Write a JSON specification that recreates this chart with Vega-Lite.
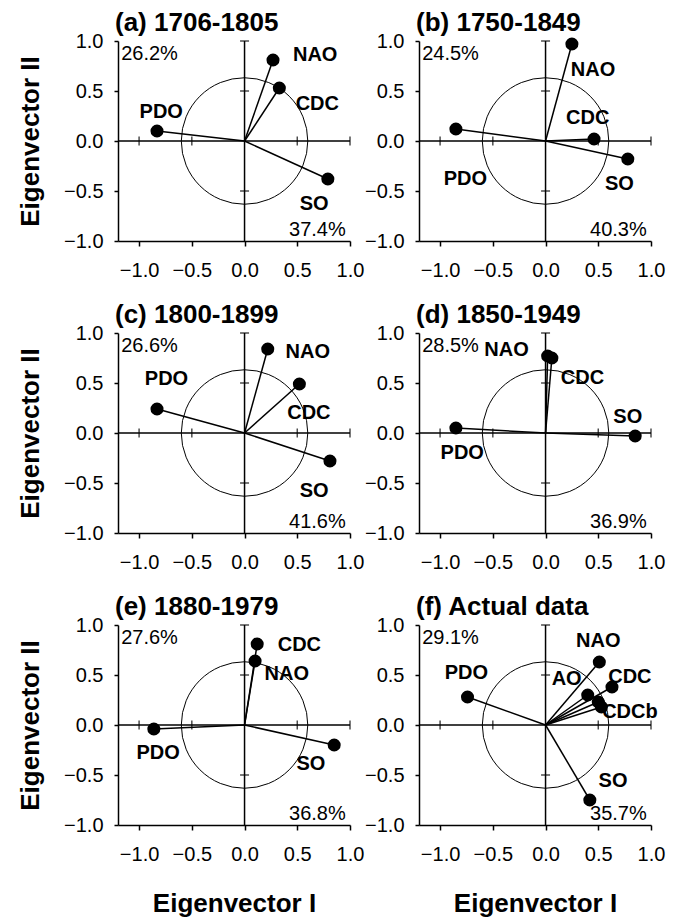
{
  "$schema": "https://vega.github.io/schema/vega-lite/v6.json",
  "padding": {"left": 17, "top": 10, "right": 5, "bottom": 5},
  "background": "white",
  "config": {
    "view": {"stroke": null},
    "font": "Liberation Sans",
    "axis": {"grid": false, "labelFlush": false, "domainColor": "black", "domainWidth": 1.5, "tickColor": "black", "tickWidth": 1.5, "tickSize": 5, "labelFont": "Liberation Sans", "labelFontSize": 20, "labelColor": "black", "titleFont": "Liberation Sans", "titleFontSize": 26, "titleFontWeight": "bold", "titleColor": "black"},
    "axisX": {"labelPadding": 14, "titlePadding": 26},
    "axisY": {"labelPadding": 11, "titlePadding": 20, "tickSize": 4},
    "title": {"anchor": "start", "frame": "group", "fontSize": 26, "font": "Liberation Sans", "fontWeight": "bold", "color": "black", "offset": -5, "dx": -3},
    "tick": {"color": "black"}
  },
  "datasets": {
    "pts": [
      {"p": "a", "v": "NAO", "x": 0.27, "y": 0.81, "lx": 0.67, "ly": 0.86},
      {"p": "a", "v": "CDC", "x": 0.33, "y": 0.53, "lx": 0.69, "ly": 0.37},
      {"p": "a", "v": "PDO", "x": -0.83, "y": 0.10, "lx": -0.79, "ly": 0.29},
      {"p": "a", "v": "SO", "x": 0.79, "y": -0.38, "lx": 0.66, "ly": -0.63},
      {"p": "b", "v": "NAO", "x": 0.25, "y": 0.97, "lx": 0.45, "ly": 0.71},
      {"p": "b", "v": "CDC", "x": 0.46, "y": 0.02, "lx": 0.40, "ly": 0.23},
      {"p": "b", "v": "PDO", "x": -0.85, "y": 0.12, "lx": -0.76, "ly": -0.38},
      {"p": "b", "v": "SO", "x": 0.78, "y": -0.18, "lx": 0.70, "ly": -0.43},
      {"p": "c", "v": "NAO", "x": 0.22, "y": 0.84, "lx": 0.60, "ly": 0.81},
      {"p": "c", "v": "CDC", "x": 0.52, "y": 0.49, "lx": 0.61, "ly": 0.20},
      {"p": "c", "v": "PDO", "x": -0.83, "y": 0.24, "lx": -0.74, "ly": 0.54},
      {"p": "c", "v": "SO", "x": 0.81, "y": -0.28, "lx": 0.66, "ly": -0.58},
      {"p": "d", "v": "NAO", "x": 0.02, "y": 0.77, "lx": -0.37, "ly": 0.83},
      {"p": "d", "v": "CDC", "x": 0.06, "y": 0.75, "lx": 0.35, "ly": 0.55},
      {"p": "d", "v": "PDO", "x": -0.85, "y": 0.05, "lx": -0.79, "ly": -0.20},
      {"p": "d", "v": "SO", "x": 0.85, "y": -0.03, "lx": 0.78, "ly": 0.16},
      {"p": "e", "v": "CDC", "x": 0.12, "y": 0.81, "lx": 0.52, "ly": 0.80},
      {"p": "e", "v": "NAO", "x": 0.10, "y": 0.64, "lx": 0.40, "ly": 0.51},
      {"p": "e", "v": "PDO", "x": -0.86, "y": -0.04, "lx": -0.82, "ly": -0.28},
      {"p": "e", "v": "SO", "x": 0.85, "y": -0.20, "lx": 0.63, "ly": -0.39},
      {"p": "f", "v": "NAO", "x": 0.51, "y": 0.63, "lx": 0.50, "ly": 0.84},
      {"p": "f", "v": "CDC", "x": 0.63, "y": 0.38, "lx": 0.80, "ly": 0.48},
      {"p": "f", "v": "AO", "x": 0.40, "y": 0.30, "lx": 0.20, "ly": 0.46},
      {"p": "f", "v": "", "x": 0.50, "y": 0.23, "lx": 0.50, "ly": 0.23},
      {"p": "f", "v": "CDCb", "x": 0.53, "y": 0.18, "lx": 0.80, "ly": 0.13},
      {"p": "f", "v": "PDO", "x": -0.74, "y": 0.28, "lx": -0.75, "ly": 0.52},
      {"p": "f", "v": "SO", "x": 0.42, "y": -0.75, "lx": 0.64, "ly": -0.56}
    ],
    "pct": [
      {"p": "a", "pc1": "37.4%", "pc2": "26.2%"},
      {"p": "b", "pc1": "40.3%", "pc2": "24.5%"},
      {"p": "c", "pc1": "41.6%", "pc2": "26.6%"},
      {"p": "d", "pc1": "36.9%", "pc2": "28.5%"},
      {"p": "e", "pc1": "36.8%", "pc2": "27.6%"},
      {"p": "f", "pc1": "35.7%", "pc2": "29.1%"}
    ],
    "xt": [{"v": -1}, {"v": -0.5}, {"v": 0.5}, {"v": 1}],
    "yt": [{"v": 1}, {"v": 0.5}, {"v": -0.5}]
  },
  "bounds": "flush",
  "spacing": 292,
  "vconcat": [
    {
      "bounds": "flush",
      "spacing": 69,
      "hconcat": [
        {
          "width": 232, "height": 200,
          "title": "(a) 1706-1805",
          "data": {"name": "pts"},
          "transform": [{"filter": "datum.p == 'a'"}],
          "layer": [
            {"data": {"values": [{}]}, "mark": {"type": "rule", "color": "black", "strokeWidth": 1.5},
             "encoding": {
               "x": {"datum": 0, "type": "quantitative", "scale": {"domain": [-1.2, 1.0], "nice": false, "zero": false}, "axis": {"values": [-1, -0.5, 0, 0.5, 1], "format": ".1f", "title": null}},
               "y": {"datum": -1, "type": "quantitative", "scale": {"domain": [-1, 1], "nice": false, "zero": false}, "axis": {"values": [-1, -0.5, 0, 0.5, 1], "format": ".1f", "title": "Eigenvector II"}},
               "y2": {"datum": 1}}},
            {"data": {"values": [{}]}, "mark": {"type": "rule", "color": "black", "strokeWidth": 1.5},
             "encoding": {"x": {"datum": -1.2, "type": "quantitative"}, "x2": {"datum": 1.0}, "y": {"datum": 0, "type": "quantitative"}}},
            {"data": {"name": "xt"}, "mark": {"type": "tick", "orient": "vertical", "size": 9, "thickness": 1.5, "color": "black"},
             "encoding": {"x": {"field": "v", "type": "quantitative"}, "y": {"datum": 0, "type": "quantitative"}}},
            {"data": {"name": "yt"}, "mark": {"type": "tick", "orient": "horizontal", "size": 9, "thickness": 1.5, "color": "black"},
             "encoding": {"y": {"field": "v", "type": "quantitative"}, "x": {"datum": 0, "type": "quantitative"}}},
            {"data": {"values": [{}]}, "mark": {"type": "point", "filled": false, "size": 16000, "color": "black", "strokeWidth": 1, "opacity": 1},
             "encoding": {"x": {"datum": 0, "type": "quantitative"}, "y": {"datum": 0, "type": "quantitative"}}},
            {"mark": {"type": "rule", "color": "black", "strokeWidth": 1.5},
             "encoding": {"x": {"field": "x", "type": "quantitative"}, "y": {"field": "y", "type": "quantitative"}, "x2": {"datum": 0}, "y2": {"datum": 0}}},
            {"mark": {"type": "point", "filled": true, "size": 170, "color": "black", "opacity": 1},
             "encoding": {"x": {"field": "x", "type": "quantitative"}, "y": {"field": "y", "type": "quantitative"}}},
            {"mark": {"type": "text", "fontSize": 20, "fontWeight": "bold", "color": "black"},
             "encoding": {"x": {"field": "lx", "type": "quantitative"}, "y": {"field": "ly", "type": "quantitative"}, "text": {"field": "v"}}},
            {"data": {"name": "pct"}, "transform": [{"filter": "datum.p == 'a'"}], "mark": {"type": "text", "fontSize": 20, "align": "left", "color": "black"},
             "encoding": {"x": {"datum": -1.17, "type": "quantitative"}, "y": {"datum": 0.87, "type": "quantitative"}, "text": {"field": "pc2"}}},
            {"data": {"name": "pct"}, "transform": [{"filter": "datum.p == 'a'"}], "mark": {"type": "text", "fontSize": 20, "align": "right", "color": "black"},
             "encoding": {"x": {"datum": 0.96, "type": "quantitative"}, "y": {"datum": -0.89, "type": "quantitative"}, "text": {"field": "pc1"}}}
          ]
        },
        {
          "width": 232, "height": 200,
          "title": "(b) 1750-1849",
          "data": {"name": "pts"},
          "transform": [{"filter": "datum.p == 'b'"}],
          "layer": [
            {"data": {"values": [{}]}, "mark": {"type": "rule", "color": "black", "strokeWidth": 1.5},
             "encoding": {
               "x": {"datum": 0, "type": "quantitative", "scale": {"domain": [-1.2, 1.0], "nice": false, "zero": false}, "axis": {"values": [-1, -0.5, 0, 0.5, 1], "format": ".1f", "title": null}},
               "y": {"datum": -1, "type": "quantitative", "scale": {"domain": [-1, 1], "nice": false, "zero": false}, "axis": {"values": [-1, -0.5, 0, 0.5, 1], "format": ".1f", "title": null}},
               "y2": {"datum": 1}}},
            {"data": {"values": [{}]}, "mark": {"type": "rule", "color": "black", "strokeWidth": 1.5},
             "encoding": {"x": {"datum": -1.2, "type": "quantitative"}, "x2": {"datum": 1.0}, "y": {"datum": 0, "type": "quantitative"}}},
            {"data": {"name": "xt"}, "mark": {"type": "tick", "orient": "vertical", "size": 9, "thickness": 1.5, "color": "black"},
             "encoding": {"x": {"field": "v", "type": "quantitative"}, "y": {"datum": 0, "type": "quantitative"}}},
            {"data": {"name": "yt"}, "mark": {"type": "tick", "orient": "horizontal", "size": 9, "thickness": 1.5, "color": "black"},
             "encoding": {"y": {"field": "v", "type": "quantitative"}, "x": {"datum": 0, "type": "quantitative"}}},
            {"data": {"values": [{}]}, "mark": {"type": "point", "filled": false, "size": 16000, "color": "black", "strokeWidth": 1, "opacity": 1},
             "encoding": {"x": {"datum": 0, "type": "quantitative"}, "y": {"datum": 0, "type": "quantitative"}}},
            {"mark": {"type": "rule", "color": "black", "strokeWidth": 1.5},
             "encoding": {"x": {"field": "x", "type": "quantitative"}, "y": {"field": "y", "type": "quantitative"}, "x2": {"datum": 0}, "y2": {"datum": 0}}},
            {"mark": {"type": "point", "filled": true, "size": 170, "color": "black", "opacity": 1},
             "encoding": {"x": {"field": "x", "type": "quantitative"}, "y": {"field": "y", "type": "quantitative"}}},
            {"mark": {"type": "text", "fontSize": 20, "fontWeight": "bold", "color": "black"},
             "encoding": {"x": {"field": "lx", "type": "quantitative"}, "y": {"field": "ly", "type": "quantitative"}, "text": {"field": "v"}}},
            {"data": {"name": "pct"}, "transform": [{"filter": "datum.p == 'b'"}], "mark": {"type": "text", "fontSize": 20, "align": "left", "color": "black"},
             "encoding": {"x": {"datum": -1.17, "type": "quantitative"}, "y": {"datum": 0.87, "type": "quantitative"}, "text": {"field": "pc2"}}},
            {"data": {"name": "pct"}, "transform": [{"filter": "datum.p == 'b'"}], "mark": {"type": "text", "fontSize": 20, "align": "right", "color": "black"},
             "encoding": {"x": {"datum": 0.96, "type": "quantitative"}, "y": {"datum": -0.89, "type": "quantitative"}, "text": {"field": "pc1"}}}
          ]
        }
      ]
    },
    {
      "bounds": "flush",
      "spacing": 69,
      "hconcat": [
        {
          "width": 232, "height": 200,
          "title": "(c) 1800-1899",
          "data": {"name": "pts"},
          "transform": [{"filter": "datum.p == 'c'"}],
          "layer": [
            {"data": {"values": [{}]}, "mark": {"type": "rule", "color": "black", "strokeWidth": 1.5},
             "encoding": {
               "x": {"datum": 0, "type": "quantitative", "scale": {"domain": [-1.2, 1.0], "nice": false, "zero": false}, "axis": {"values": [-1, -0.5, 0, 0.5, 1], "format": ".1f", "title": null}},
               "y": {"datum": -1, "type": "quantitative", "scale": {"domain": [-1, 1], "nice": false, "zero": false}, "axis": {"values": [-1, -0.5, 0, 0.5, 1], "format": ".1f", "title": "Eigenvector II"}},
               "y2": {"datum": 1}}},
            {"data": {"values": [{}]}, "mark": {"type": "rule", "color": "black", "strokeWidth": 1.5},
             "encoding": {"x": {"datum": -1.2, "type": "quantitative"}, "x2": {"datum": 1.0}, "y": {"datum": 0, "type": "quantitative"}}},
            {"data": {"name": "xt"}, "mark": {"type": "tick", "orient": "vertical", "size": 9, "thickness": 1.5, "color": "black"},
             "encoding": {"x": {"field": "v", "type": "quantitative"}, "y": {"datum": 0, "type": "quantitative"}}},
            {"data": {"name": "yt"}, "mark": {"type": "tick", "orient": "horizontal", "size": 9, "thickness": 1.5, "color": "black"},
             "encoding": {"y": {"field": "v", "type": "quantitative"}, "x": {"datum": 0, "type": "quantitative"}}},
            {"data": {"values": [{}]}, "mark": {"type": "point", "filled": false, "size": 16000, "color": "black", "strokeWidth": 1, "opacity": 1},
             "encoding": {"x": {"datum": 0, "type": "quantitative"}, "y": {"datum": 0, "type": "quantitative"}}},
            {"mark": {"type": "rule", "color": "black", "strokeWidth": 1.5},
             "encoding": {"x": {"field": "x", "type": "quantitative"}, "y": {"field": "y", "type": "quantitative"}, "x2": {"datum": 0}, "y2": {"datum": 0}}},
            {"mark": {"type": "point", "filled": true, "size": 170, "color": "black", "opacity": 1},
             "encoding": {"x": {"field": "x", "type": "quantitative"}, "y": {"field": "y", "type": "quantitative"}}},
            {"mark": {"type": "text", "fontSize": 20, "fontWeight": "bold", "color": "black"},
             "encoding": {"x": {"field": "lx", "type": "quantitative"}, "y": {"field": "ly", "type": "quantitative"}, "text": {"field": "v"}}},
            {"data": {"name": "pct"}, "transform": [{"filter": "datum.p == 'c'"}], "mark": {"type": "text", "fontSize": 20, "align": "left", "color": "black"},
             "encoding": {"x": {"datum": -1.17, "type": "quantitative"}, "y": {"datum": 0.87, "type": "quantitative"}, "text": {"field": "pc2"}}},
            {"data": {"name": "pct"}, "transform": [{"filter": "datum.p == 'c'"}], "mark": {"type": "text", "fontSize": 20, "align": "right", "color": "black"},
             "encoding": {"x": {"datum": 0.96, "type": "quantitative"}, "y": {"datum": -0.89, "type": "quantitative"}, "text": {"field": "pc1"}}}
          ]
        },
        {
          "width": 232, "height": 200,
          "title": "(d) 1850-1949",
          "data": {"name": "pts"},
          "transform": [{"filter": "datum.p == 'd'"}],
          "layer": [
            {"data": {"values": [{}]}, "mark": {"type": "rule", "color": "black", "strokeWidth": 1.5},
             "encoding": {
               "x": {"datum": 0, "type": "quantitative", "scale": {"domain": [-1.2, 1.0], "nice": false, "zero": false}, "axis": {"values": [-1, -0.5, 0, 0.5, 1], "format": ".1f", "title": null}},
               "y": {"datum": -1, "type": "quantitative", "scale": {"domain": [-1, 1], "nice": false, "zero": false}, "axis": {"values": [-1, -0.5, 0, 0.5, 1], "format": ".1f", "title": null}},
               "y2": {"datum": 1}}},
            {"data": {"values": [{}]}, "mark": {"type": "rule", "color": "black", "strokeWidth": 1.5},
             "encoding": {"x": {"datum": -1.2, "type": "quantitative"}, "x2": {"datum": 1.0}, "y": {"datum": 0, "type": "quantitative"}}},
            {"data": {"name": "xt"}, "mark": {"type": "tick", "orient": "vertical", "size": 9, "thickness": 1.5, "color": "black"},
             "encoding": {"x": {"field": "v", "type": "quantitative"}, "y": {"datum": 0, "type": "quantitative"}}},
            {"data": {"name": "yt"}, "mark": {"type": "tick", "orient": "horizontal", "size": 9, "thickness": 1.5, "color": "black"},
             "encoding": {"y": {"field": "v", "type": "quantitative"}, "x": {"datum": 0, "type": "quantitative"}}},
            {"data": {"values": [{}]}, "mark": {"type": "point", "filled": false, "size": 16000, "color": "black", "strokeWidth": 1, "opacity": 1},
             "encoding": {"x": {"datum": 0, "type": "quantitative"}, "y": {"datum": 0, "type": "quantitative"}}},
            {"mark": {"type": "rule", "color": "black", "strokeWidth": 1.5},
             "encoding": {"x": {"field": "x", "type": "quantitative"}, "y": {"field": "y", "type": "quantitative"}, "x2": {"datum": 0}, "y2": {"datum": 0}}},
            {"mark": {"type": "point", "filled": true, "size": 170, "color": "black", "opacity": 1},
             "encoding": {"x": {"field": "x", "type": "quantitative"}, "y": {"field": "y", "type": "quantitative"}}},
            {"mark": {"type": "text", "fontSize": 20, "fontWeight": "bold", "color": "black"},
             "encoding": {"x": {"field": "lx", "type": "quantitative"}, "y": {"field": "ly", "type": "quantitative"}, "text": {"field": "v"}}},
            {"data": {"name": "pct"}, "transform": [{"filter": "datum.p == 'd'"}], "mark": {"type": "text", "fontSize": 20, "align": "left", "color": "black"},
             "encoding": {"x": {"datum": -1.17, "type": "quantitative"}, "y": {"datum": 0.87, "type": "quantitative"}, "text": {"field": "pc2"}}},
            {"data": {"name": "pct"}, "transform": [{"filter": "datum.p == 'd'"}], "mark": {"type": "text", "fontSize": 20, "align": "right", "color": "black"},
             "encoding": {"x": {"datum": 0.96, "type": "quantitative"}, "y": {"datum": -0.89, "type": "quantitative"}, "text": {"field": "pc1"}}}
          ]
        }
      ]
    },
    {
      "bounds": "flush",
      "spacing": 69,
      "hconcat": [
        {
          "width": 232, "height": 200,
          "title": "(e) 1880-1979",
          "data": {"name": "pts"},
          "transform": [{"filter": "datum.p == 'e'"}],
          "layer": [
            {"data": {"values": [{}]}, "mark": {"type": "rule", "color": "black", "strokeWidth": 1.5},
             "encoding": {
               "x": {"datum": 0, "type": "quantitative", "scale": {"domain": [-1.2, 1.0], "nice": false, "zero": false}, "axis": {"values": [-1, -0.5, 0, 0.5, 1], "format": ".1f", "title": "Eigenvector I"}},
               "y": {"datum": -1, "type": "quantitative", "scale": {"domain": [-1, 1], "nice": false, "zero": false}, "axis": {"values": [-1, -0.5, 0, 0.5, 1], "format": ".1f", "title": "Eigenvector II"}},
               "y2": {"datum": 1}}},
            {"data": {"values": [{}]}, "mark": {"type": "rule", "color": "black", "strokeWidth": 1.5},
             "encoding": {"x": {"datum": -1.2, "type": "quantitative"}, "x2": {"datum": 1.0}, "y": {"datum": 0, "type": "quantitative"}}},
            {"data": {"name": "xt"}, "mark": {"type": "tick", "orient": "vertical", "size": 9, "thickness": 1.5, "color": "black"},
             "encoding": {"x": {"field": "v", "type": "quantitative"}, "y": {"datum": 0, "type": "quantitative"}}},
            {"data": {"name": "yt"}, "mark": {"type": "tick", "orient": "horizontal", "size": 9, "thickness": 1.5, "color": "black"},
             "encoding": {"y": {"field": "v", "type": "quantitative"}, "x": {"datum": 0, "type": "quantitative"}}},
            {"data": {"values": [{}]}, "mark": {"type": "point", "filled": false, "size": 16000, "color": "black", "strokeWidth": 1, "opacity": 1},
             "encoding": {"x": {"datum": 0, "type": "quantitative"}, "y": {"datum": 0, "type": "quantitative"}}},
            {"mark": {"type": "rule", "color": "black", "strokeWidth": 1.5},
             "encoding": {"x": {"field": "x", "type": "quantitative"}, "y": {"field": "y", "type": "quantitative"}, "x2": {"datum": 0}, "y2": {"datum": 0}}},
            {"mark": {"type": "point", "filled": true, "size": 170, "color": "black", "opacity": 1},
             "encoding": {"x": {"field": "x", "type": "quantitative"}, "y": {"field": "y", "type": "quantitative"}}},
            {"mark": {"type": "text", "fontSize": 20, "fontWeight": "bold", "color": "black"},
             "encoding": {"x": {"field": "lx", "type": "quantitative"}, "y": {"field": "ly", "type": "quantitative"}, "text": {"field": "v"}}},
            {"data": {"name": "pct"}, "transform": [{"filter": "datum.p == 'e'"}], "mark": {"type": "text", "fontSize": 20, "align": "left", "color": "black"},
             "encoding": {"x": {"datum": -1.17, "type": "quantitative"}, "y": {"datum": 0.87, "type": "quantitative"}, "text": {"field": "pc2"}}},
            {"data": {"name": "pct"}, "transform": [{"filter": "datum.p == 'e'"}], "mark": {"type": "text", "fontSize": 20, "align": "right", "color": "black"},
             "encoding": {"x": {"datum": 0.96, "type": "quantitative"}, "y": {"datum": -0.89, "type": "quantitative"}, "text": {"field": "pc1"}}}
          ]
        },
        {
          "width": 232, "height": 200,
          "title": "(f) Actual data",
          "data": {"name": "pts"},
          "transform": [{"filter": "datum.p == 'f'"}],
          "layer": [
            {"data": {"values": [{}]}, "mark": {"type": "rule", "color": "black", "strokeWidth": 1.5},
             "encoding": {
               "x": {"datum": 0, "type": "quantitative", "scale": {"domain": [-1.2, 1.0], "nice": false, "zero": false}, "axis": {"values": [-1, -0.5, 0, 0.5, 1], "format": ".1f", "title": "Eigenvector I"}},
               "y": {"datum": -1, "type": "quantitative", "scale": {"domain": [-1, 1], "nice": false, "zero": false}, "axis": {"values": [-1, -0.5, 0, 0.5, 1], "format": ".1f", "title": null}},
               "y2": {"datum": 1}}},
            {"data": {"values": [{}]}, "mark": {"type": "rule", "color": "black", "strokeWidth": 1.5},
             "encoding": {"x": {"datum": -1.2, "type": "quantitative"}, "x2": {"datum": 1.0}, "y": {"datum": 0, "type": "quantitative"}}},
            {"data": {"name": "xt"}, "mark": {"type": "tick", "orient": "vertical", "size": 9, "thickness": 1.5, "color": "black"},
             "encoding": {"x": {"field": "v", "type": "quantitative"}, "y": {"datum": 0, "type": "quantitative"}}},
            {"data": {"name": "yt"}, "mark": {"type": "tick", "orient": "horizontal", "size": 9, "thickness": 1.5, "color": "black"},
             "encoding": {"y": {"field": "v", "type": "quantitative"}, "x": {"datum": 0, "type": "quantitative"}}},
            {"data": {"values": [{}]}, "mark": {"type": "point", "filled": false, "size": 16000, "color": "black", "strokeWidth": 1, "opacity": 1},
             "encoding": {"x": {"datum": 0, "type": "quantitative"}, "y": {"datum": 0, "type": "quantitative"}}},
            {"mark": {"type": "rule", "color": "black", "strokeWidth": 1.5},
             "encoding": {"x": {"field": "x", "type": "quantitative"}, "y": {"field": "y", "type": "quantitative"}, "x2": {"datum": 0}, "y2": {"datum": 0}}},
            {"mark": {"type": "point", "filled": true, "size": 170, "color": "black", "opacity": 1},
             "encoding": {"x": {"field": "x", "type": "quantitative"}, "y": {"field": "y", "type": "quantitative"}}},
            {"mark": {"type": "text", "fontSize": 20, "fontWeight": "bold", "color": "black"},
             "encoding": {"x": {"field": "lx", "type": "quantitative"}, "y": {"field": "ly", "type": "quantitative"}, "text": {"field": "v"}}},
            {"data": {"name": "pct"}, "transform": [{"filter": "datum.p == 'f'"}], "mark": {"type": "text", "fontSize": 20, "align": "left", "color": "black"},
             "encoding": {"x": {"datum": -1.17, "type": "quantitative"}, "y": {"datum": 0.87, "type": "quantitative"}, "text": {"field": "pc2"}}},
            {"data": {"name": "pct"}, "transform": [{"filter": "datum.p == 'f'"}], "mark": {"type": "text", "fontSize": 20, "align": "right", "color": "black"},
             "encoding": {"x": {"datum": 0.96, "type": "quantitative"}, "y": {"datum": -0.89, "type": "quantitative"}, "text": {"field": "pc1"}}}
          ]
        }
      ]
    }
  ]
}
